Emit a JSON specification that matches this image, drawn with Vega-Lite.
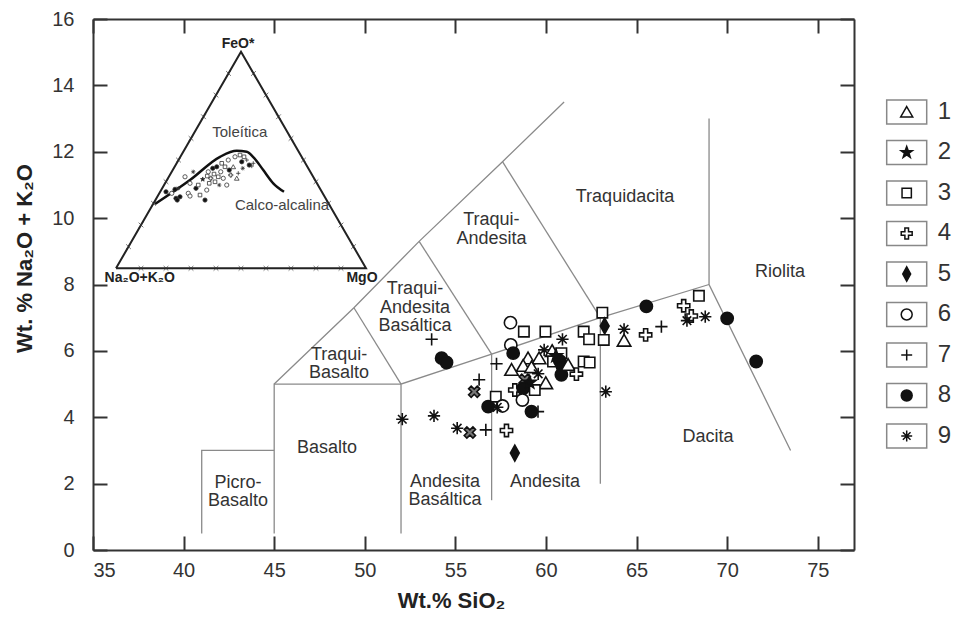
{
  "$schema": "https://vega.github.io/schema/vega-lite/v6.json",
  "width": 761,
  "height": 531,
  "autosize": {"type": "none"},
  "padding": {"left": 93, "top": 19, "right": 105, "bottom": 67},
  "background": "white",
  "config": {
    "font": "Liberation Sans",
    "view": {"stroke": null},
    "axis": {
      "grid": false,
      "domainColor": "#333",
      "domainWidth": 2,
      "tickColor": "#333",
      "tickWidth": 2,
      "tickSize": -14,
      "labelFont": "Liberation Sans",
      "labelFontSize": 20,
      "labelColor": "#333",
      "titleFont": "Liberation Sans",
      "titleFontSize": 22,
      "titleFontWeight": "bold",
      "titleColor": "#222"
    }
  },
  "datasets": {
    "bounds": [
      {"s": 1, "o": 1, "x": 41, "y": 0.5}, {"s": 1, "o": 2, "x": 41, "y": 3}, {"s": 1, "o": 3, "x": 45, "y": 3},
      {"s": 2, "o": 1, "x": 45, "y": 0.5}, {"s": 2, "o": 2, "x": 45, "y": 5}, {"s": 2, "o": 3, "x": 52, "y": 5},
      {"s": 3, "o": 1, "x": 52, "y": 0.5}, {"s": 3, "o": 2, "x": 52, "y": 5}, {"s": 3, "o": 3, "x": 57, "y": 5.9}, {"s": 3, "o": 4, "x": 63, "y": 7}, {"s": 3, "o": 5, "x": 69, "y": 8},
      {"s": 4, "o": 1, "x": 57, "y": 1.5}, {"s": 4, "o": 2, "x": 57, "y": 5.9},
      {"s": 5, "o": 1, "x": 63, "y": 2}, {"s": 5, "o": 2, "x": 63, "y": 7},
      {"s": 6, "o": 1, "x": 69, "y": 13}, {"s": 6, "o": 2, "x": 69, "y": 8}, {"s": 6, "o": 3, "x": 73.5, "y": 3},
      {"s": 7, "o": 1, "x": 45, "y": 5}, {"s": 7, "o": 2, "x": 49.4, "y": 7.3}, {"s": 7, "o": 3, "x": 53, "y": 9.3}, {"s": 7, "o": 4, "x": 57.6, "y": 11.7}, {"s": 7, "o": 5, "x": 61, "y": 13.5},
      {"s": 8, "o": 1, "x": 49.4, "y": 7.3}, {"s": 8, "o": 2, "x": 52, "y": 5},
      {"s": 9, "o": 1, "x": 53, "y": 9.3}, {"s": 9, "o": 2, "x": 57, "y": 5.9},
      {"s": 10, "o": 1, "x": 57.6, "y": 11.7}, {"s": 10, "o": 2, "x": 63, "y": 7}
    ],
    "labels": [
      {"t": "Picro-\nBasalto", "x": 43.0, "y": 2.02},
      {"t": "Basalto", "x": 47.91, "y": 3.07},
      {"t": "Andesita\nBasáltica", "x": 54.43, "y": 2.05},
      {"t": "Andesita", "x": 59.95, "y": 2.05},
      {"t": "Dacita", "x": 68.94, "y": 3.4},
      {"t": "Traqui-\nBasalto", "x": 48.58, "y": 5.88},
      {"t": "Traqui-\nAndesita\nBasáltica", "x": 52.77, "y": 7.86},
      {"t": "Traqui-\nAndesita", "x": 56.99, "y": 9.94},
      {"t": "Traquidacita", "x": 64.36, "y": 10.64},
      {"t": "Riolita", "x": 72.92, "y": 8.38}
    ],
    "pts": [
      {"g": "7", "x": 53.69, "y": 6.35}, {"g": "8", "x": 54.24, "y": 5.78}, {"g": "8", "x": 54.51, "y": 5.65},
      {"g": "6", "x": 58.04, "y": 6.85}, {"g": "3", "x": 58.78, "y": 6.58}, {"g": "3", "x": 59.97, "y": 6.58},
      {"g": "9", "x": 60.91, "y": 6.35}, {"g": "3", "x": 63.11, "y": 7.15}, {"g": "5", "x": 63.24, "y": 6.75},
      {"g": "9", "x": 64.31, "y": 6.65}, {"g": "3", "x": 62.08, "y": 6.58}, {"g": "3", "x": 62.38, "y": 6.35},
      {"g": "3", "x": 63.19, "y": 6.33}, {"g": "1", "x": 64.31, "y": 6.31}, {"g": "6", "x": 58.06, "y": 6.18},
      {"g": "8", "x": 58.19, "y": 5.93}, {"g": "7", "x": 57.27, "y": 5.61}, {"g": "9", "x": 59.9, "y": 6.03},
      {"g": "1", "x": 60.34, "y": 6.0}, {"g": "3", "x": 60.85, "y": 5.93}, {"g": "1", "x": 59.01, "y": 5.78},
      {"g": "1", "x": 59.62, "y": 5.78}, {"g": "1", "x": 58.74, "y": 5.55}, {"g": "1", "x": 58.1, "y": 5.43},
      {"g": "1", "x": 59.2, "y": 5.51}, {"g": "3", "x": 60.39, "y": 5.68}, {"g": "8", "x": 60.76, "y": 5.7},
      {"g": "8", "x": 60.91, "y": 5.53}, {"g": "8", "x": 60.85, "y": 5.28}, {"g": "1", "x": 61.22, "y": 5.58},
      {"g": "3", "x": 62.08, "y": 5.68}, {"g": "3", "x": 62.41, "y": 5.65}, {"g": "4", "x": 61.68, "y": 5.3},
      {"g": "9", "x": 59.57, "y": 5.31}, {"g": "X", "x": 58.83, "y": 5.13}, {"g": "1", "x": 59.99, "y": 5.03},
      {"g": "4", "x": 58.28, "y": 4.82}, {"g": "8", "x": 58.74, "y": 4.87}, {"g": "3", "x": 59.38, "y": 4.82},
      {"g": "X", "x": 56.04, "y": 4.77}, {"g": "7", "x": 56.31, "y": 5.13}, {"g": "3", "x": 57.23, "y": 4.62},
      {"g": "6", "x": 58.7, "y": 4.52}, {"g": "8", "x": 56.81, "y": 4.32}, {"g": "6", "x": 57.6, "y": 4.34},
      {"g": "9", "x": 57.31, "y": 4.3}, {"g": "8", "x": 59.2, "y": 4.17}, {"g": "7", "x": 59.56, "y": 4.17},
      {"g": "9", "x": 52.07, "y": 3.94}, {"g": "9", "x": 53.82, "y": 4.04}, {"g": "9", "x": 55.1, "y": 3.67},
      {"g": "X", "x": 55.8, "y": 3.54}, {"g": "7", "x": 56.68, "y": 3.62}, {"g": "4", "x": 57.82, "y": 3.6},
      {"g": "5", "x": 58.28, "y": 2.92}, {"g": "3", "x": 68.44, "y": 7.66}, {"g": "8", "x": 65.54, "y": 7.34},
      {"g": "4", "x": 67.6, "y": 7.36}, {"g": "4", "x": 68.02, "y": 7.05}, {"g": "9", "x": 67.78, "y": 6.91},
      {"g": "9", "x": 68.79, "y": 7.03}, {"g": "8", "x": 70.0, "y": 6.98}, {"g": "8", "x": 71.6, "y": 5.68},
      {"g": "7", "x": 66.37, "y": 6.73}, {"g": "4", "x": 65.5, "y": 6.48}, {"g": "9", "x": 63.3, "y": 4.77},
      {"g": "2", "x": 60.55, "y": 5.85}, {"g": "2", "x": 59.1, "y": 5.05}
    ],
    "tri": [
      {"o": 1, "tx": 0, "ty": 0}, {"o": 2, "tx": 100, "ty": 0}, {"o": 3, "tx": 50, "ty": 86.6}, {"o": 4, "tx": 0, "ty": 0}
    ],
    "curve": [
      {"o": 1, "tx": 15.6, "ty": 25.7}, {"o": 2, "tx": 29.6, "ty": 35.3}, {"o": 3, "tx": 41.6, "ty": 44.6},
      {"o": 4, "tx": 48.3, "ty": 47.0}, {"o": 5, "tx": 52.3, "ty": 46.6}, {"o": 6, "tx": 54.8, "ty": 44.6},
      {"o": 7, "tx": 58.9, "ty": 39.3}, {"o": 8, "tx": 62.9, "ty": 34.0}, {"o": 9, "tx": 67.2, "ty": 30.6}
    ],
    "ticks": [
      {"tx": 10, "ty": 0}, {"tx": 20, "ty": 0}, {"tx": 30, "ty": 0}, {"tx": 40, "ty": 0}, {"tx": 50, "ty": 0},
      {"tx": 60, "ty": 0}, {"tx": 70, "ty": 0}, {"tx": 80, "ty": 0}, {"tx": 90, "ty": 0},
      {"tx": 5, "ty": 8.66}, {"tx": 10, "ty": 17.32}, {"tx": 15, "ty": 25.98}, {"tx": 20, "ty": 34.64}, {"tx": 25, "ty": 43.3},
      {"tx": 30, "ty": 51.96}, {"tx": 35, "ty": 60.62}, {"tx": 40, "ty": 69.28}, {"tx": 45, "ty": 77.94},
      {"tx": 95, "ty": 8.66}, {"tx": 90, "ty": 17.32}, {"tx": 85, "ty": 25.98}, {"tx": 80, "ty": 34.64}, {"tx": 75, "ty": 43.3},
      {"tx": 70, "ty": 51.96}, {"tx": 65, "ty": 60.62}, {"tx": 60, "ty": 69.28}, {"tx": 55, "ty": 77.94}
    ],
    "ipts": [
      {"g": "8", "tx": 20.0, "ty": 30.6}, {"g": "8", "tx": 23.6, "ty": 31.6}, {"g": "8", "tx": 24.0, "ty": 28.0},
      {"g": "8", "tx": 24.5, "ty": 27.3}, {"g": "8", "tx": 25.6, "ty": 28.6}, {"g": "6", "tx": 27.6, "ty": 36.6},
      {"g": "6", "tx": 28.9, "ty": 30.0}, {"g": "6", "tx": 29.6, "ty": 28.9}, {"g": "9", "tx": 30.9, "ty": 38.6},
      {"g": "8", "tx": 32.0, "ty": 32.0}, {"g": "3", "tx": 32.9, "ty": 33.3}, {"g": "3", "tx": 33.6, "ty": 29.3},
      {"g": "2", "tx": 34.7, "ty": 35.6}, {"g": "8", "tx": 35.6, "ty": 27.3}, {"g": "3", "tx": 36.5, "ty": 36.9},
      {"g": "6", "tx": 36.9, "ty": 38.6}, {"g": "3", "tx": 37.3, "ty": 34.0}, {"g": "4", "tx": 37.9, "ty": 36.0},
      {"g": "8", "tx": 38.7, "ty": 40.0}, {"g": "3", "tx": 39.2, "ty": 37.7}, {"g": "3", "tx": 39.6, "ty": 34.6},
      {"g": "8", "tx": 40.3, "ty": 40.6}, {"g": "3", "tx": 40.9, "ty": 36.6}, {"g": "9", "tx": 41.3, "ty": 33.3},
      {"g": "6", "tx": 41.9, "ty": 38.6}, {"g": "3", "tx": 42.3, "ty": 42.0}, {"g": "6", "tx": 42.9, "ty": 36.0},
      {"g": "3", "tx": 43.6, "ty": 40.6}, {"g": "6", "tx": 44.3, "ty": 33.3}, {"g": "6", "tx": 44.9, "ty": 43.3},
      {"g": "8", "tx": 45.3, "ty": 39.3}, {"g": "4", "tx": 45.9, "ty": 37.3}, {"g": "1", "tx": 46.9, "ty": 40.6},
      {"g": "6", "tx": 47.6, "ty": 44.6}, {"g": "1", "tx": 48.3, "ty": 36.0}, {"g": "7", "tx": 48.9, "ty": 38.0},
      {"g": "3", "tx": 49.6, "ty": 45.3}, {"g": "8", "tx": 50.3, "ty": 42.6}, {"g": "9", "tx": 50.7, "ty": 40.0},
      {"g": "3", "tx": 51.2, "ty": 44.6}, {"g": "7", "tx": 52.3, "ty": 43.3}, {"g": "8", "tx": 53.3, "ty": 41.3},
      {"g": "7", "tx": 54.3, "ty": 40.9}, {"g": "7", "tx": 54.9, "ty": 42.0}, {"g": "6", "tx": 22.3, "ty": 30.0},
      {"g": "9", "tx": 24.9, "ty": 32.0}, {"g": "6", "tx": 29.6, "ty": 34.0}, {"g": "6", "tx": 36.3, "ty": 31.3}
    ],
    "itext": [
      {"t": "FeO*", "kind": "apex", "tx": 48.8, "ty": 89.7},
      {"t": "Na₂O+K₂O", "kind": "apex", "tx": 9.5, "ty": -3.9},
      {"t": "MgO", "kind": "apex", "tx": 98.4, "ty": -3.9},
      {"t": "Toleítica", "kind": "field", "tx": 49.5, "ty": 54.6},
      {"t": "Calco-alcalina", "kind": "field", "tx": 66.4, "ty": 25.3}
    ],
    "legend": [
      {"g": "1", "ly": 1}, {"g": "2", "ly": 2}, {"g": "3", "ly": 3}, {"g": "4", "ly": 4}, {"g": "5", "ly": 5},
      {"g": "6", "ly": 6}, {"g": "7", "ly": 7}, {"g": "8", "ly": 8}, {"g": "9", "ly": 9}
    ]
  },
  "resolve": {
    "scale": {"x": "independent", "y": "independent"},
    "axis": {"x": "independent", "y": "independent"}
  },
  "layer": [
    {
      "data": {"name": "bounds"},
      "mark": {"type": "line", "color": "#8a8a8a", "strokeWidth": 1.3},
      "encoding": {
        "x": {"field": "x", "type": "quantitative", "scale": {"domain": [35, 77], "nice": false, "zero": false},
              "axis": {"orient": "bottom", "values": [35, 40, 45, 50, 55, 60, 65, 70, 75], "labelPadding": 24, "title": "Wt.% SiO₂", "titleX": 358, "titleY": 50, "titleBaseline": "middle", "titleAlign": "center"}},
        "y": {"field": "y", "type": "quantitative", "scale": {"domain": [0, 16], "nice": false, "zero": false},
              "axis": {"orient": "left", "values": [0, 2, 4, 6, 8, 10, 12, 14, 16], "labelPadding": 33, "title": "Wt. % Na₂O + K₂O", "titleX": -69, "titleY": 239, "titleAngle": 270, "titleBaseline": "middle", "titleAlign": "center"}},
        "detail": {"field": "s", "type": "nominal"},
        "order": {"field": "o", "type": "quantitative"}
      }
    },
    {
      "data": {"name": "labels"},
      "mark": {"type": "text", "font": "Liberation Sans", "fontSize": 18, "color": "#333", "align": "center", "baseline": "middle", "lineBreak": "\n", "lineHeight": 18.5},
      "encoding": {
        "x": {"field": "x", "type": "quantitative", "scale": {"domain": [35, 77], "nice": false, "zero": false},
              "axis": {"orient": "top", "values": [35, 40, 45, 50, 55, 60, 65, 70, 75], "labels": false, "title": null}},
        "y": {"field": "y", "type": "quantitative", "scale": {"domain": [0, 16], "nice": false, "zero": false},
              "axis": {"orient": "right", "values": [0, 2, 4, 6, 8, 10, 12, 14, 16], "labels": false, "title": null}},
        "text": {"field": "t", "type": "nominal"}
      }
    },
    {
      "data": {"name": "pts"},
      "mark": {"type": "point", "filled": true, "stroke": "#111", "strokeWidth": 1.6, "size": 150, "opacity": 1},
      "encoding": {
        "x": {"field": "x", "type": "quantitative", "scale": {"domain": [35, 77], "nice": false, "zero": false}, "axis": null},
        "y": {"field": "y", "type": "quantitative", "scale": {"domain": [0, 16], "nice": false, "zero": false}, "axis": null},
        "shape": {"field": "g", "type": "nominal", "legend": null, "scale": {"domain": ["1", "2", "3", "4", "5", "6", "7", "8", "9", "X"], "range": ["M0,-1L1.1,0.9L-1.1,0.9Z", "M0,-1.1L0.26,-0.36L1.05,-0.34L0.42,0.14L0.65,0.89L0,0.44L-0.65,0.89L-0.42,0.14L-1.05,-0.34L-0.26,-0.36Z", "M-0.85,-0.85L0.85,-0.85L0.85,0.85L-0.85,0.85Z", "M-0.33,-1L0.33,-1L0.33,-0.33L1,-0.33L1,0.33L0.33,0.33L0.33,1L-0.33,1L-0.33,0.33L-1,0.33L-1,-0.33L-0.33,-0.33Z", "M0,-1.3L0.72,0L0,1.3L-0.72,0Z", "circle", "M-1,0L1,0M0,-1L0,1", "circle", "M-1,0L1,0M0,-1L0,1M-0.7,-0.7L0.7,0.7M-0.7,0.7L0.7,-0.7", "M0.495,-0.919L0.919,-0.495L0.424,0L0.919,0.495L0.495,0.919L0,0.424L-0.495,0.919L-0.919,0.495L-0.424,0L-0.919,-0.495L-0.495,-0.919L0,-0.424Z"]}},
        "fill": {"field": "g", "type": "nominal", "legend": null, "scale": {"domain": ["1", "2", "3", "4", "5", "6", "7", "8", "9", "X"], "range": ["#ffffff", "#111111", "#ffffff", "#ffffff", "#111111", "#ffffff", "#111111", "#111111", "#111111", "#777777"]}}
      }
    },
    {
      "data": {"name": "tri"},
      "mark": {"type": "line", "color": "#222", "strokeWidth": 2},
      "encoding": {
        "x": {"field": "tx", "type": "quantitative", "scale": {"domain": [-9.2, 295.2], "nice": false, "zero": false}, "axis": null},
        "y": {"field": "ty", "type": "quantitative", "scale": {"domain": [-112.68, 99.72], "nice": false, "zero": false}, "axis": null},
        "order": {"field": "o", "type": "quantitative"}
      }
    },
    {
      "data": {"name": "curve"},
      "mark": {"type": "line", "color": "#111", "strokeWidth": 2.5, "interpolate": "monotone"},
      "encoding": {
        "x": {"field": "tx", "type": "quantitative", "scale": {"domain": [-9.2, 295.2], "nice": false, "zero": false}, "axis": null},
        "y": {"field": "ty", "type": "quantitative", "scale": {"domain": [-112.68, 99.72], "nice": false, "zero": false}, "axis": null},
        "order": {"field": "o", "type": "quantitative"}
      }
    },
    {
      "data": {"name": "ticks"},
      "mark": {"type": "point", "shape": "M-1,-1L1,1M-1,1L1,-1", "size": 22, "stroke": "#333", "strokeWidth": 1, "filled": false},
      "encoding": {
        "x": {"field": "tx", "type": "quantitative", "scale": {"domain": [-9.2, 295.2], "nice": false, "zero": false}, "axis": null},
        "y": {"field": "ty", "type": "quantitative", "scale": {"domain": [-112.68, 99.72], "nice": false, "zero": false}, "axis": null}
      }
    },
    {
      "data": {"name": "ipts"},
      "mark": {"type": "point", "filled": true, "stroke": "#333", "strokeWidth": 0.8, "size": 18, "opacity": 1},
      "encoding": {
        "x": {"field": "tx", "type": "quantitative", "scale": {"domain": [-9.2, 295.2], "nice": false, "zero": false}, "axis": null},
        "y": {"field": "ty", "type": "quantitative", "scale": {"domain": [-112.68, 99.72], "nice": false, "zero": false}, "axis": null},
        "shape": {"field": "g", "type": "nominal", "legend": null, "scale": {"domain": ["1", "2", "3", "4", "5", "6", "7", "8", "9", "X"], "range": ["M0,-1L1.1,0.9L-1.1,0.9Z", "M0,-1.1L0.26,-0.36L1.05,-0.34L0.42,0.14L0.65,0.89L0,0.44L-0.65,0.89L-0.42,0.14L-1.05,-0.34L-0.26,-0.36Z", "M-0.85,-0.85L0.85,-0.85L0.85,0.85L-0.85,0.85Z", "M-0.33,-1L0.33,-1L0.33,-0.33L1,-0.33L1,0.33L0.33,0.33L0.33,1L-0.33,1L-0.33,0.33L-1,0.33L-1,-0.33L-0.33,-0.33Z", "M0,-1.3L0.72,0L0,1.3L-0.72,0Z", "circle", "M-1,0L1,0M0,-1L0,1", "circle", "M-1,0L1,0M0,-1L0,1M-0.7,-0.7L0.7,0.7M-0.7,0.7L0.7,-0.7", "M0.495,-0.919L0.919,-0.495L0.424,0L0.919,0.495L0.495,0.919L0,0.424L-0.495,0.919L-0.919,0.495L-0.424,0L-0.919,-0.495L-0.495,-0.919L0,-0.424Z"]}},
        "fill": {"field": "g", "type": "nominal", "legend": null, "scale": {"domain": ["1", "2", "3", "4", "5", "6", "7", "8", "9", "X"], "range": ["#ffffff", "#111111", "#ffffff", "#ffffff", "#111111", "#ffffff", "#111111", "#111111", "#111111", "#777777"]}}
      }
    },
    {
      "data": {"name": "itext"},
      "transform": [{"filter": "datum.kind === 'apex'"}],
      "mark": {"type": "text", "font": "Liberation Sans", "fontSize": 14, "fontWeight": "bold", "color": "#222", "align": "center", "baseline": "middle"},
      "encoding": {
        "x": {"field": "tx", "type": "quantitative", "scale": {"domain": [-9.2, 295.2], "nice": false, "zero": false}, "axis": null},
        "y": {"field": "ty", "type": "quantitative", "scale": {"domain": [-112.68, 99.72], "nice": false, "zero": false}, "axis": null},
        "text": {"field": "t", "type": "nominal"}
      }
    },
    {
      "data": {"name": "itext"},
      "transform": [{"filter": "datum.kind === 'field'"}],
      "mark": {"type": "text", "font": "Liberation Sans", "fontSize": 15, "color": "#444", "align": "center", "baseline": "middle"},
      "encoding": {
        "x": {"field": "tx", "type": "quantitative", "scale": {"domain": [-9.2, 295.2], "nice": false, "zero": false}, "axis": null},
        "y": {"field": "ty", "type": "quantitative", "scale": {"domain": [-112.68, 99.72], "nice": false, "zero": false}, "axis": null},
        "text": {"field": "t", "type": "nominal"}
      }
    },
    {
      "data": {"name": "legend"},
      "mark": {"type": "point", "shape": "M-1.667,-1L1.667,-1L1.667,1L-1.667,1Z", "size": 576, "filled": true, "fill": "#ffffff", "stroke": "#888", "strokeWidth": 1.5, "opacity": 1},
      "encoding": {
        "x": {"datum": 0, "type": "quantitative", "scale": {"domain": [-81.37, -5.27], "nice": false, "zero": false}, "axis": null},
        "y": {"field": "ly", "type": "quantitative", "scale": {"domain": [-1.296, 11.815], "nice": false, "zero": false, "reverse": true}, "axis": null}
      }
    },
    {
      "data": {"name": "legend"},
      "mark": {"type": "point", "filled": true, "stroke": "#111", "strokeWidth": 1.5, "size": 120, "opacity": 1},
      "encoding": {
        "x": {"datum": 0, "type": "quantitative", "scale": {"domain": [-81.37, -5.27], "nice": false, "zero": false}, "axis": null},
        "y": {"field": "ly", "type": "quantitative", "scale": {"domain": [-1.296, 11.815], "nice": false, "zero": false, "reverse": true}, "axis": null},
        "shape": {"field": "g", "type": "nominal", "legend": null, "scale": {"domain": ["1", "2", "3", "4", "5", "6", "7", "8", "9", "X"], "range": ["M0,-1L1.1,0.9L-1.1,0.9Z", "M0,-1.1L0.26,-0.36L1.05,-0.34L0.42,0.14L0.65,0.89L0,0.44L-0.65,0.89L-0.42,0.14L-1.05,-0.34L-0.26,-0.36Z", "M-0.85,-0.85L0.85,-0.85L0.85,0.85L-0.85,0.85Z", "M-0.33,-1L0.33,-1L0.33,-0.33L1,-0.33L1,0.33L0.33,0.33L0.33,1L-0.33,1L-0.33,0.33L-1,0.33L-1,-0.33L-0.33,-0.33Z", "M0,-1.3L0.72,0L0,1.3L-0.72,0Z", "circle", "M-1,0L1,0M0,-1L0,1", "circle", "M-1,0L1,0M0,-1L0,1M-0.7,-0.7L0.7,0.7M-0.7,0.7L0.7,-0.7", "M0.495,-0.919L0.919,-0.495L0.424,0L0.919,0.495L0.495,0.919L0,0.424L-0.495,0.919L-0.919,0.495L-0.424,0L-0.919,-0.495L-0.495,-0.919L0,-0.424Z"]}},
        "fill": {"field": "g", "type": "nominal", "legend": null, "scale": {"domain": ["1", "2", "3", "4", "5", "6", "7", "8", "9", "X"], "range": ["#ffffff", "#111111", "#ffffff", "#ffffff", "#111111", "#ffffff", "#111111", "#111111", "#111111", "#777777"]}}
      }
    },
    {
      "data": {"name": "legend"},
      "mark": {"type": "text", "font": "Liberation Sans", "fontSize": 24, "color": "#333", "align": "left", "baseline": "middle", "dx": 31},
      "encoding": {
        "x": {"datum": 0, "type": "quantitative", "scale": {"domain": [-81.37, -5.27], "nice": false, "zero": false}, "axis": null},
        "y": {"field": "ly", "type": "quantitative", "scale": {"domain": [-1.296, 11.815], "nice": false, "zero": false, "reverse": true}, "axis": null},
        "text": {"field": "g", "type": "nominal"}
      }
    }
  ]
}
